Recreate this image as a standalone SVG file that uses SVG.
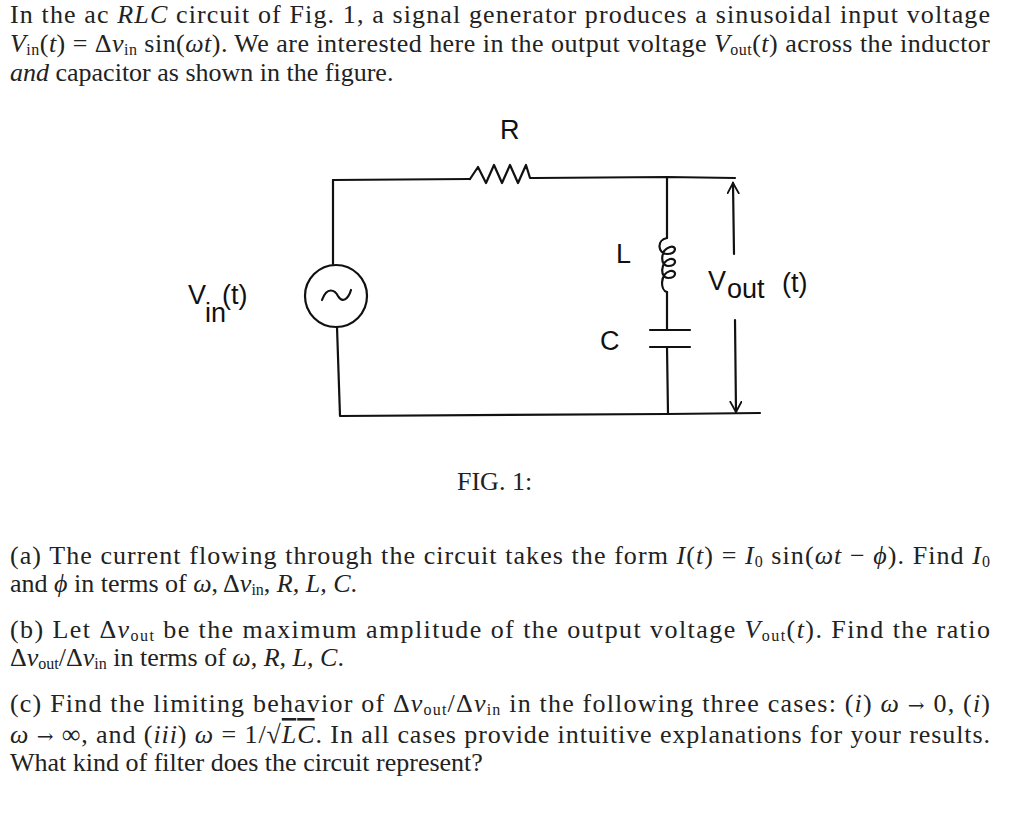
<svg xmlns="http://www.w3.org/2000/svg" width="1027" height="822" viewBox="0 0 1027 822">
<style>
.t{font-family:"Liberation Serif",serif;font-size:26px;fill:#222}
.i{font-style:italic}
.s{font-size:16px}
.ar{font-family:"DejaVu Serif",serif;font-size:20px}
.w{fill:none;stroke:#111;stroke-width:2.2;stroke-linecap:round;stroke-linejoin:round}
.h{font-family:"Liberation Sans",sans-serif;font-size:27px;fill:#111}
</style>
<defs><marker id="a" markerWidth="14" markerHeight="14" refX="11" refY="6" orient="auto" markerUnits="userSpaceOnUse"><path d="M0,0 L11,6 L0,12" fill="none" stroke="#111" stroke-width="1.8"/></marker></defs>
<rect width="1027" height="822" fill="#fff"/>
<g id="text">
<text class="t" x="10" y="23" textLength="980" lengthAdjust="spacing">In the ac <tspan class="i">RLC</tspan> circuit of Fig. 1, a signal generator produces a sinusoidal input voltage</text>
<text class="t" x="10" y="52" textLength="980" lengthAdjust="spacing"><tspan class="i">V</tspan><tspan class="s" dy="3">in</tspan><tspan dy="-3">(</tspan><tspan class="i">t</tspan>) = Δ<tspan class="i">v</tspan><tspan class="s" dy="3">in</tspan><tspan dy="-3"> sin(</tspan><tspan class="i">ωt</tspan>). We are interested here in the output voltage <tspan class="i">V</tspan><tspan class="s" dy="3">out</tspan><tspan dy="-3">(</tspan><tspan class="i">t</tspan>) across the inductor</text>
<text class="t" x="10" y="81"><tspan class="i">and</tspan> capacitor as shown in the figure.</text>
<text class="t" x="457" y="490" font-size="21">FIG. 1:</text>
<text class="t" x="10" y="564" textLength="980" lengthAdjust="spacing">(a) The current flowing through the circuit takes the form <tspan class="i">I</tspan>(<tspan class="i">t</tspan>) = <tspan class="i">I</tspan><tspan class="s" dy="3">0</tspan><tspan dy="-3"> sin(</tspan><tspan class="i">ωt</tspan> − <tspan class="i">ϕ</tspan>). Find <tspan class="i">I</tspan><tspan class="s" dy="3">0</tspan></text>
<text class="t" x="10" y="592">and <tspan class="i">ϕ</tspan> in terms of <tspan class="i">ω</tspan>, Δ<tspan class="i">v</tspan><tspan class="s" dy="3">in</tspan><tspan dy="-3">, </tspan><tspan class="i">R, L, C</tspan>.</text>
<text class="t" x="10" y="638" textLength="980" lengthAdjust="spacing">(b) Let Δ<tspan class="i">v</tspan><tspan class="s" dy="3">out</tspan><tspan dy="-3"> be the maximum amplitude of the output voltage </tspan><tspan class="i">V</tspan><tspan class="s" dy="3">out</tspan><tspan dy="-3">(</tspan><tspan class="i">t</tspan>). Find the ratio</text>
<text class="t" x="10" y="666">Δ<tspan class="i">v</tspan><tspan class="s" dy="3">out</tspan><tspan dy="-3">/Δ</tspan><tspan class="i">v</tspan><tspan class="s" dy="3">in</tspan><tspan dy="-3"> in terms of </tspan><tspan class="i">ω, R, L, C</tspan>.</text>
<text class="t" x="10" y="712" textLength="980" lengthAdjust="spacing">(c) Find the limiting behavior of Δ<tspan class="i">v</tspan><tspan class="s" dy="3">out</tspan><tspan dy="-3">/Δ</tspan><tspan class="i">v</tspan><tspan class="s" dy="3">in</tspan><tspan dy="-3"> in the following three cases: (</tspan><tspan class="i">i</tspan>) <tspan class="i">ω</tspan> <tspan class="ar">→</tspan> 0, (<tspan class="i">i</tspan>)</text>
<text class="t" x="10" y="743" textLength="980" lengthAdjust="spacing"><tspan class="i">ω</tspan> <tspan class="ar">→</tspan> ∞, and (<tspan class="i">iii</tspan>) <tspan class="i">ω</tspan> = 1/√<tspan class="i" text-decoration="overline">LC</tspan>. In all cases provide intuitive explanations for your results.</text>
<text class="t" x="10" y="771">What kind of filter does the circuit represent?</text>
</g>
<g id="connectors">
<path class="w" d="M333,180 L470,179"/>
<path class="w" d="M535,178 L667,177 L735,178"/>
<path class="w" d="M333,180 L333,264"/>
<path class="w" d="M337,327 L340,416 L667,414 L760,413"/>
<path class="w" d="M667,177 L667,238"/>
<path class="w" d="M667,292 L667,330"/>
<path class="w" d="M667,347 L668,414"/>
</g>
<g id="R"><path class="w" d="M470,179 L478,167 L486,183 L494,165 L502,183 L510,165 L518,183 L526,165 L530,178 L535,178"/><text class="h" x="500" y="139">R</text></g>
<g id="Vin"><circle class="w" cx="336" cy="296" r="31"/><path class="w" d="M322,300 C327,286 335,290 338,296 C342,303 348,300 351,290"/><text class="h" x="188" y="304">V</text><text class="h" x="222" y="304">(t)</text><text class="h" x="205" y="322" font-size="14">in</text></g>
<g id="L"><path class="w" d="M667,238 C656,240 658,254 667,254 C677,254 677,245 670,247 C660,250 660,266 668,266 C677,266 677,258 670,259 C660,262 660,278 668,278 C677,278 677,270 670,271 C660,274 660,290 667,292"/><text class="h" x="616" y="263">L</text></g>
<g id="C"><path class="w" d="M650,330 L690,330 M650,347 L690,347"/><text class="h" x="600" y="350">C</text></g>
<g id="Vout"><path class="w" d="M734,254 L733,183" marker-end="url(#a)"/><path class="w" d="M735,320 L736,412" marker-end="url(#a)"/><text class="h" x="708" y="290">V</text><text class="h" x="727" y="298" font-size="17">out</text><text class="h" x="782" y="292">(t)</text></g>
</svg>
